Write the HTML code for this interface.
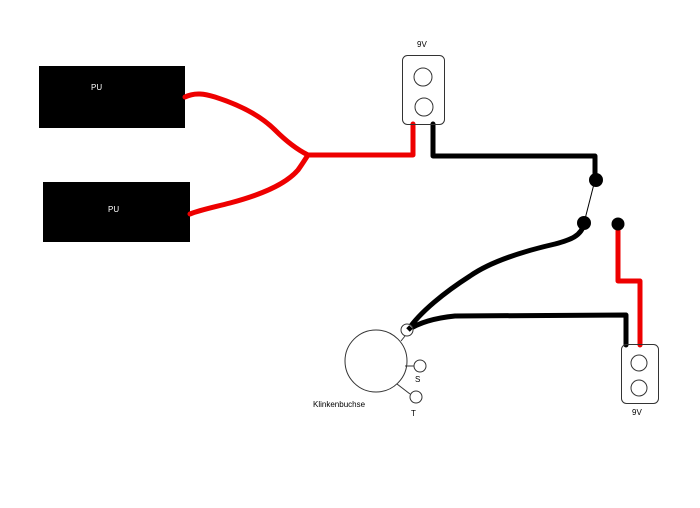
<!DOCTYPE html>
<html><head><meta charset="utf-8"><style>
html,body{margin:0;padding:0;background:#fff;}
svg{display:block;}
text{font-family:"Liberation Sans",sans-serif;font-size:8px;}
</style></head><body>
<svg width="700" height="508" viewBox="0 0 700 508" xmlns="http://www.w3.org/2000/svg">
<rect width="700" height="508" fill="#fff"/>
<rect x="39" y="66" width="146" height="62" fill="#000"/>
<text x="91" y="90" fill="#fff">PU</text>
<rect x="43" y="182" width="147" height="60" fill="#000"/>
<text x="108" y="212" fill="#fff">PU</text>
<g fill="none" stroke="#e00" stroke-width="5" stroke-linecap="round" stroke-linejoin="round">
<path d="M185,97 C195,92 205,94 215,97 C240,105 260,115 275,130 C288,143 298,150 308,155"/>
<path d="M190,214 C200,210 215,207 230,203 C260,195 285,185 298,170 C303,163 306,158 308,155"/>
<path d="M308,155 L413,155 L413,124"/>
<path d="M618,224 L618,281 L640,281 L640,345"/>
</g>
<g fill="none" stroke="#000" stroke-width="5" stroke-linecap="round" stroke-linejoin="round">
<path d="M433,124 L433,156 L595,156 L595,180"/>
<path d="M584,223 C582,236 570,240 555,244 C520,252 490,262 470,276 C445,292 420,312 408,330"/>
<path d="M408,330 C420,322 435,318 455,316 L626,315 L626,345"/>
</g>
<line x1="595" y1="180" x2="584" y2="223" stroke="#000" stroke-width="1"/>
<circle cx="596" cy="180" r="7" fill="#000"/>
<circle cx="584" cy="223" r="7" fill="#000"/>
<circle cx="618" cy="224" r="6.5" fill="#000"/>
<rect x="402.5" y="55.5" width="42" height="69" rx="5" fill="none" stroke="#333" stroke-width="1"/>
<circle cx="423" cy="77" r="9" fill="#fff" stroke="#333"/>
<circle cx="424" cy="107" r="9" fill="#fff" stroke="#333"/>
<text x="417" y="47">9V</text>
<rect x="621.5" y="344.5" width="37" height="59" rx="5" fill="none" stroke="#333" stroke-width="1"/>
<circle cx="639" cy="363" r="8" fill="#fff" stroke="#333"/>
<circle cx="639" cy="388" r="8" fill="#fff" stroke="#333"/>
<text x="632" y="415">9V</text>
<circle cx="376" cy="361" r="31" fill="#fff" stroke="#333"/>
<line x1="401" y1="341" x2="405" y2="336" stroke="#333"/>
<circle cx="407" cy="330" r="6" fill="#fff" stroke="#333"/>
<line x1="408" y1="330" x2="411" y2="327" stroke="#000" stroke-width="5"/>
<line x1="405" y1="366" x2="414" y2="366" stroke="#333"/>
<circle cx="420" cy="366" r="6" fill="#fff" stroke="#333"/>
<line x1="397" y1="384" x2="410" y2="394" stroke="#333"/>
<circle cx="416" cy="397" r="6" fill="#fff" stroke="#333"/>
<text x="415" y="382">S</text>
<text x="411" y="416">T</text>
<text x="313" y="407">Klinkenbuchse</text>
</svg>
</body></html>
